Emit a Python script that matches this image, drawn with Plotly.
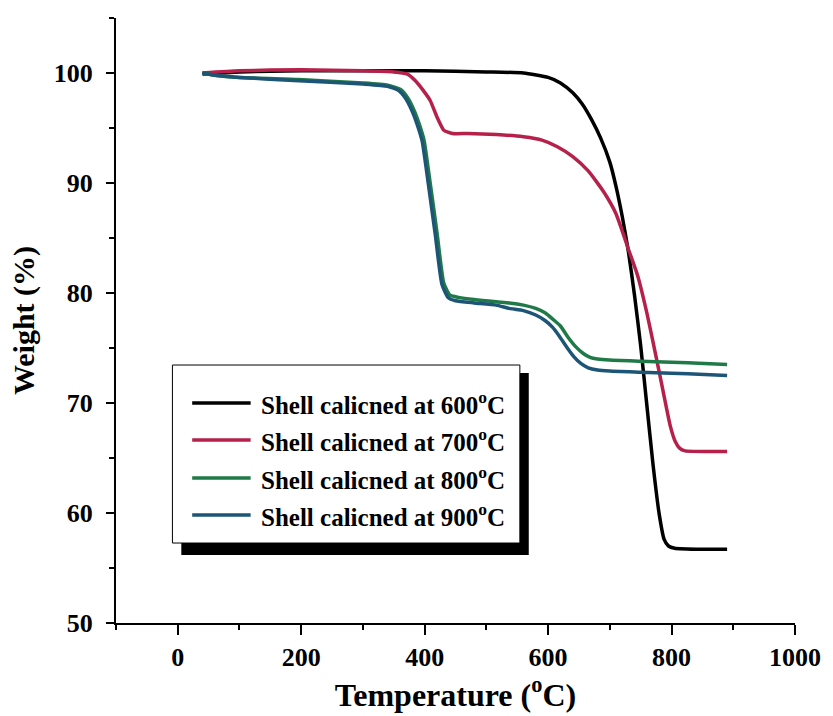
import plotly.graph_objects as go

# TGA curves of shell samples calcined at different temperatures
labels = [
    "Shell calicned at 600<sup>o</sup>C",
    "Shell calicned at 700<sup>o</sup>C",
    "Shell calicned at 800<sup>o</sup>C",
    "Shell calicned at 900<sup>o</sup>C",
]
colors = ["#000000", "#b5214a", "#1f7a48", "#1d5577"]

temp_600 = [40, 100, 200, 300, 400, 500, 560, 600, 620, 640, 655, 670, 685, 700, 710,
            720, 730, 740, 750, 760, 770, 780, 788, 795, 805, 850, 890]
wt_600 = [99.9, 100.1, 100.2, 100.2, 100.2, 100.1, 100.0, 99.6, 99.1, 98.2, 97.2, 95.8,
          94.1, 91.9, 89.7, 87.0, 83.8, 79.8, 75.2, 69.8, 64.4, 59.9, 57.6, 57.0, 56.8,
          56.7, 56.7]

temp_700 = [40, 100, 200, 300, 350, 372, 385, 398, 409, 420, 431, 445, 470, 516, 560, 590,
            615, 640, 665, 690, 710, 730, 745, 760, 775, 788, 798, 806, 813, 822, 860, 890]
wt_700 = [100.0, 100.2, 100.3, 100.2, 100.1, 99.9, 99.3, 98.4, 97.5, 96.0, 94.8, 94.5,
          94.5, 94.4, 94.2, 93.9, 93.3, 92.4, 91.1, 89.2, 87.2, 84.0, 81.6, 78.2, 74.2,
          70.6, 67.9, 66.5, 65.9, 65.65, 65.6, 65.6]

temp_800 = [40, 60, 100, 196, 300, 340, 361, 372, 383, 391, 399, 409, 420, 431, 441, 455,
            480, 516, 537, 560, 580, 595, 608, 620, 632, 645, 657, 668, 680, 700, 750, 800,
            853, 890]
wt_800 = [100.0, 99.8, 99.6, 99.4, 99.1, 98.9, 98.5, 97.8, 96.6, 95.4, 93.9, 90.0, 85.5,
          80.9, 79.8, 79.6, 79.4, 79.2, 79.1, 78.9, 78.6, 78.2, 77.6, 77.0, 76.0, 75.1,
          74.5, 74.15, 74.0, 73.9, 73.8, 73.7, 73.6, 73.5]

temp_900 = [40, 60, 100, 196, 300, 340, 358, 369, 380, 388, 396, 406, 417, 428, 438, 450,
            480, 516, 537, 560, 580, 595, 607, 618, 630, 642, 653, 665, 680, 700, 750, 800,
            853, 890]
wt_900 = [100.0, 99.8, 99.6, 99.3, 99.0, 98.8, 98.4, 97.7, 96.5, 95.3, 93.8, 89.9, 85.4,
          80.8, 79.6, 79.3, 79.1, 78.9, 78.6, 78.4, 78.0, 77.5, 76.9, 76.1, 75.1, 74.2,
          73.6, 73.2, 73.0, 72.9, 72.8, 72.7, 72.6, 72.5]

series_x = [temp_600, temp_700, temp_800, temp_900]
series_y = [wt_600, wt_700, wt_800, wt_900]

FONT = "Liberation Serif, Times New Roman, serif"

fig = go.Figure()
for xs, ys, name, col in zip(series_x, series_y, labels, colors):
    fig.add_trace(go.Scatter(
        x=xs, y=ys, mode="lines", name=name,
        line=dict(color=col, width=3.5, shape="spline", smoothing=0.5),
        showlegend=False,
    ))

axis_common = dict(
    showline=True, linecolor="black", linewidth=2, mirror=False,
    ticks="outside", tickcolor="black", tickwidth=2,
    showgrid=False, zeroline=False,
    tickfont=dict(family=FONT, size=26, color="black", weight="bold"),
)

fig.update_xaxes(
    range=[-100, 1000], dtick=200, tick0=0, ticklen=10,
    minor=dict(dtick=100, ticks="outside", ticklen=5, tickwidth=2, tickcolor="black"),
    title=dict(text="Temperature (<sup>o</sup>C)",
               font=dict(family=FONT, size=32, color="black", weight="bold"),
               standoff=4),
    **axis_common,
)
fig.update_yaxes(
    range=[50, 105], dtick=10, tick0=50, ticklen=8,
    minor=dict(dtick=5, ticks="outside", ticklen=5, tickwidth=2, tickcolor="black"),
    title=dict(text="Weight (%)",
               font=dict(family=FONT, size=30, color="black", weight="bold"),
               standoff=10),
    ticklabelstandoff=8,
    **axis_common,
)

# Boxed legend with a drop shadow
shapes = [
    dict(type="rect", xref="paper", yref="paper", x0=0.0962, x1=0.6079, y0=0.1124, y1=0.4132,
         fillcolor="black", line=dict(width=0), layer="above"),
    dict(type="rect", xref="paper", yref="paper", x0=0.0831, x1=0.5948, y0=0.1322, y1=0.4264,
         fillcolor="white", line=dict(color="black", width=1), layer="above"),
]
annotations = []
row_y = [0.3636, 0.3025, 0.2397, 0.1785]
for yy, name, col in zip(row_y, labels, colors):
    shapes.append(dict(type="line", xref="paper", yref="paper", x0=0.1122, x1=0.1983,
                       y0=yy, y1=yy, line=dict(color=col, width=3.5), layer="above"))
    annotations.append(dict(xref="paper", yref="paper", x=0.2099, y=yy, text=name,
                            showarrow=False, xanchor="left", yanchor="middle",
                            font=dict(family=FONT, size=25, color="black", weight="bold")))

fig.update_layout(
    width=833, height=716,
    margin=dict(l=116, r=31, t=18, b=93),
    paper_bgcolor="white", plot_bgcolor="white",
    shapes=shapes, annotations=annotations,
    showlegend=False,
)

fig.write_html("out.html")
